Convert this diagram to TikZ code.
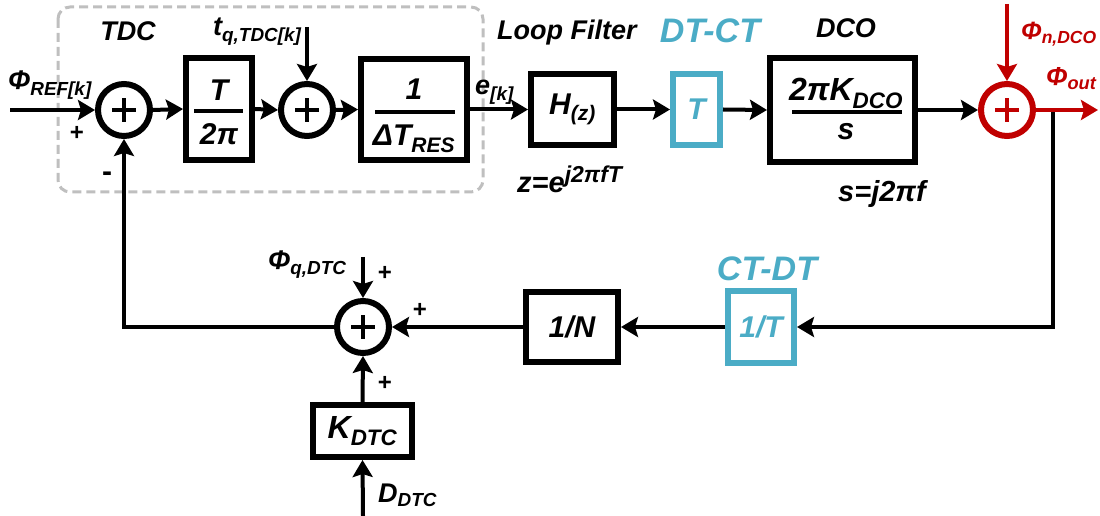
\documentclass[tikz,border=0pt]{standalone}
\usepackage{fontspec}
\setmainfont{Liberation Sans}
\usetikzlibrary{arrows.meta}
\definecolor{cyanb}{HTML}{4BACC6}
\definecolor{redb}{HTML}{C00000}
\definecolor{grayd}{HTML}{BFBFBF}
\newcommand\fs[1]{\fontsize{#1bp}{#1bp}\selectfont\bfseries\itshape}
\newcommand\sbs[1]{\textsubscript{#1}}
\begin{document}
\begin{tikzpicture}[x=1bp,y=-1bp,
  blk/.style={draw, line width=6bp, inner sep=0pt, font=\fs{30}},
  sumnode/.style={circle, draw, line width=6bp, minimum size=52bp, inner sep=0pt},
  conn/.style={line width=4bp, -{Stealth[length=17bp,width=20bp,inset=3bp]}},
  lab/.style={font=\fs{27}, inner sep=0pt},
  clab/.style={font=\fs{34}, inner sep=0pt, text=cyanb},
  sgn/.style={font=\fontsize{24bp}{24bp}\selectfont\bfseries, inner sep=0pt},
  frc/.style={font=\fs{30}, inner sep=0pt},
]
\path[use as bounding box] (0,0) rectangle (1100,516);

% TDC dashed region
\draw[grayd, line width=3bp, dash pattern=on 9bp off 5bp, rounded corners=12bp] (58,7) rectangle (483,192);

% sums
\node[sumnode] (s1) at (124,110) {};
\node[sumnode] (s2) at (307,110) {};
\node[sumnode, draw=redb] (s3) at (1007,110) {};
\node[sumnode] (s4) at (363,327) {};
\foreach \s/\c in {s1/black,s2/black,s3/redb,s4/black}{
  \draw[line width=4bp, \c] ([xshift=-12bp]\s.center) -- ([xshift=12bp]\s.center)
        ([yshift=-12bp]\s.center) -- ([yshift=12bp]\s.center);
}

% blocks
\node[blk, minimum width=66bp, minimum height=102bp] (b1) at (219,109) {};
\node[frc, anchor=base] (b1n) at (219,101) {T};
\node[frc, anchor=base] (b1d) at (219,145) {2π};
\draw[line width=4bp] (194,111) -- (243,111);

\node[blk, minimum width=106bp, minimum height=101bp] (b2) at (414,109.5) {};
\node[frc, anchor=base] (b2n) at (414,100) {1};
\node[frc, anchor=base] (b2d) at (414,146) {ΔT\sbs{RES}};
\draw[line width=4bp] (375,112) -- (455,112);

\node[blk, minimum width=83bp, minimum height=71bp] (bH) at (572.5,109.5) {H\sbs{(z)}};
\node[blk, draw=cyanb, text=cyanb, minimum width=47bp, minimum height=71bp] (bTc) at (696.5,109.5) {T};

\node[blk, minimum width=145bp, minimum height=104bp] (bD) at (842.5,110) {};
\node[frc, anchor=base, font=\fs{32}] (bDn) at (846,101) {2πK\sbs{DCO}};
\node[frc, anchor=base] (bDd) at (846,140) {s};
\draw[line width=4bp] (792,112) -- (902,112);

\node[blk, draw=cyanb, text=cyanb, minimum width=66bp, minimum height=71bp] (bT) at (761,327) {1/T};
\node[blk, minimum width=92bp, minimum height=70bp] (bN) at (572,327) {1/N};
\node[blk, minimum width=99bp, minimum height=52bp, font=\fs{32}] (bK) at (362.5,431) {K\sbs{DTC}};

% free ends
\coordinate (inL) at (10,110);
\coordinate (tqT) at (307,27);
\coordinate (nT) at (1007,4);
\coordinate (outR) at (1098,110);
\coordinate (tap) at (1053,110);
\coordinate (qT) at (363,257);
\coordinate (dB) at (363,516);

% connectors
\draw[conn] (inL) -- (s1.west);
\draw[conn] (s1.east) -- (b1.west);
\draw[conn] (b1.east) -- (s2.west);
\draw[conn] (tqT) -- (s2.north);
\draw[conn] (s2.east) -- (b2.west);
\draw[conn] (b2.east) -- (bH.west);
\draw[conn] (bH.east) -- (bTc.west);
\draw[conn] (bTc.east) -- (bD.west);
\draw[conn] (bD.east) -- (s3.west);
\draw[conn] (tap) |- (bT.east);
\draw[conn] (bT.west) -- (bN.east);
\draw[conn] (bN.west) -- (s4.east);
\draw[conn] (s4.west) -| (s1.south);
\draw[conn] (qT) -- (s4.north);
\draw[conn] (bK.north) -- (s4.south);
\draw[conn] (dB) -- (bK.south);
\draw[conn, redb] (nT) -- (s3.north);
\draw[conn, redb] (s3.east) -- (outR);

% labels
\node[lab, anchor=base west] (lref) at (8,90) {Φ\sbs{REF[k]}};
\node[lab, anchor=base] (ltdc) at (128,41) {TDC};
\node[lab, anchor=base west] (ltq) at (213,36) {t\sbs{q,TDC[k]}};
\node[lab, anchor=base west] (lek) at (475,95) {e\sbs{[k]}};
\node[lab, anchor=base west] (llf) at (497,40) {Loop Filter};
\node[lab, anchor=base west, font=\fs{29}] (lz) at (517,193) {z=e\raisebox{10bp}{\fs{23}j2πfT}};
\node[clab, anchor=base] (ldtct) at (710,43) {DT-CT};
\node[lab, anchor=base] (ldco) at (846,38) {DCO};
\node[lab, anchor=base west, font=\fs{29}] (ls) at (838,202) {s=j2πf};
\node[lab, anchor=base west, text=redb, font=\fs{25}] (lnd) at (1021,40) {Φ\sbs{n,DCO}};
\node[lab, anchor=base west, text=redb, font=\fs{26}] (lout) at (1046,86) {Φ\sbs{out}};
\node[clab, anchor=base] (lctdt) at (767,281) {CT-DT};
\node[lab, anchor=base west] (lq) at (268,270) {Φ\sbs{q,DTC}};
\node[lab, anchor=base west] (ld) at (378,502) {D\sbs{DTC}};

% signs
\node[sgn] (p1) at (77,133) {+};
\node[sgn, font=\fontsize{30bp}{30bp}\selectfont\bfseries] (m1) at (107,177) {-};
\node[sgn] (p2) at (385,273) {+};
\node[sgn] (p3) at (420,310) {+};
\node[sgn] (p4) at (385,383) {+};
\end{tikzpicture}
\end{document}
